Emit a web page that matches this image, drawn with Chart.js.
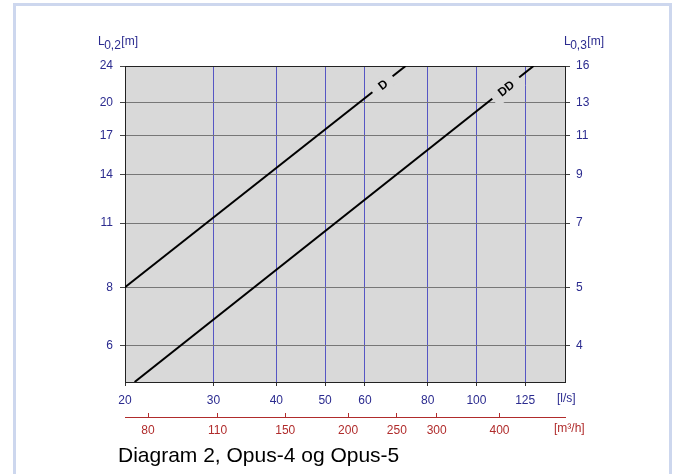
<!DOCTYPE html>
<html>
<head>
<meta charset="utf-8">
<script src="https://cdn.jsdelivr.net/npm/chart.js@4/dist/chart.umd.min.js"></script>
<style>
  html, body { margin: 0; padding: 0; background: #fff; }
  #wrap { position: relative; width: 677px; height: 474px; overflow: hidden; }
  #frame { position: absolute; left: 13px; top: 3px; width: 653px; height: 520px;
           border: 3px solid #cdd7ee; border-bottom: none; }
  #chart { position: absolute; left: 0; top: 0; }
</style>
</head>
<body>
<div id="wrap">
  <div id="frame"></div>
  <canvas id="chart" width="677" height="474"></canvas>
</div>
<script>
// Akser (log-log)
const flowLs   = [20, 30, 40, 50, 60, 80, 100, 125];      // [l/s]
const flowM3h  = [80, 110, 150, 200, 250, 300, 400];      // [m³/h]
const lenLeft  = [6, 8, 11, 14, 17, 20, 24];              // L0,2 [m]
const lenRight = ['4', '5', '7', '9', '11', '13', '16'];  // L0,3 [m]
const flowMin = 20, flowMax = 150;
const lenMin = 5, lenMax = 24;

// Kurver D og DD (endepunkter lest av diagrammet)
const dFlow  = [20, 72.3];
const dLen   = [8, 24];
const ddFlow = [20.9, 129.9];
const ddLen  = [5, 24];

// Kurvetekster (plassering på kurven)
const curveNames = ['D', 'DD'];
const labelFlow  = [65.1, 114.4];
const labelLen   = [21.9, 21.5];

const NAVY = '#2b2b8f';
const RED  = '#b02c2c';
const PLOT_BG = '#d9d9d9';
const FONT = 'Arial, "Liberation Sans", sans-serif';

Chart.defaults.font.family = FONT;
Chart.defaults.font.size = 12;

const toPoints = (xs, ys) => xs.map((x, i) => ({ x, y: ys[i] }));

const diagram = {
    id: 'diagram',
    beforeDraw(chart) {
        const { ctx, chartArea: a } = chart;
        ctx.save();
        ctx.fillStyle = PLOT_BG;
        ctx.fillRect(a.left, a.top, a.right - a.left, a.bottom - a.top);
        ctx.restore();
    },
    beforeDatasetsDraw(chart) {
        // øvre ramme
        const { ctx, chartArea: a } = chart;
        ctx.save();
        ctx.strokeStyle = '#222';
        ctx.lineWidth = 1;
        ctx.beginPath();
        ctx.moveTo(a.left, Math.round(a.top) + 0.5);
        ctx.lineTo(a.right, Math.round(a.top) + 0.5);
        ctx.stroke();
        ctx.restore();
    },
    afterDatasetsDraw(chart) {
        const { ctx } = chart;
        const xs = chart.scales.x, ys = chart.scales.y;
        curveNames.forEach((name, i) => {
            const pts = chart.getDatasetMeta(i).data;
            const p0 = pts[0], p1 = pts[pts.length - 1];
            const ang = Math.atan2(p1.y - p0.y, p1.x - p0.x);
            const px = xs.getPixelForValue(labelFlow[i]);
            const py = ys.getPixelForValue(labelLen[i]);
            ctx.save();
            ctx.translate(px, py);
            ctx.rotate(ang);
            ctx.font = 'bold 12px ' + FONT;
            const w = ctx.measureText(name).width + 17;
            const h = i === 0 ? 14 : 20;
            ctx.fillStyle = PLOT_BG;
            ctx.fillRect(-w / 2, -h / 2, w, h);
            ctx.fillStyle = '#000';
            ctx.textAlign = 'center';
            ctx.textBaseline = 'middle';
            ctx.fillText(name, 0, 1);
            ctx.restore();
        });
    },
    afterDraw(chart) {
        const { ctx } = chart;
        const f = s => s + 'px ' + FONT;
        const axisTitle = (x, sub) => {
            ctx.font = f(12);
            ctx.fillText('L', x, 45);
            x += ctx.measureText('L').width - 0.5;
            ctx.fillText(sub, x, 49);
            x += ctx.measureText(sub).width + 0.5;
            ctx.fillText('[m]', x, 45);
        };
        ctx.save();
        ctx.textBaseline = 'alphabetic';
        ctx.textAlign = 'left';
        ctx.fillStyle = NAVY;
        axisTitle(98, '0,2');
        axisTitle(564, '0,3');
        ctx.font = f(12);
        ctx.textBaseline = 'middle';
        ctx.fillText('[l/s]', 557, 399);
        ctx.fillStyle = RED;
        ctx.fillText('[m³/h]', 554, 429);
        ctx.fillStyle = '#000';
        ctx.textBaseline = 'alphabetic';
        ctx.font = f(21);
        ctx.fillText('Diagram 2, Opus-4 og Opus-5', 118, 462);
        ctx.restore();
    }
};

const lenTicks = s => { s.ticks = lenLeft.map(v => ({ value: v })); };

new Chart(document.getElementById('chart'), {
    type: 'line',
    data: {
        datasets: [
            { label: 'D',  data: toPoints(dFlow, dLen) },
            { label: 'DD', data: toPoints(ddFlow, ddLen) },
        ],
    },
    options: {
        responsive: false,
        animation: false,
        devicePixelRatio: 1,
        layout: { padding: { top: 66, left: 0, right: 0, bottom: 0 } },
        elements: {
            line: { borderColor: '#000', borderWidth: 2, tension: 0 },
            point: { radius: 0 },
        },
        plugins: { legend: { display: false }, tooltip: { enabled: false } },
        scales: {
            x: {
                type: 'logarithmic', position: 'bottom', min: flowMin, max: flowMax,
                afterBuildTicks: s => { s.ticks = flowLs.map(v => ({ value: v })); },
                afterFit: s => { s.height = 35; },
                ticks: { color: NAVY, padding: 7, autoSkip: false, maxRotation: 0,
                         callback: v => String(v) },
                grid: { color: '#5656c4', lineWidth: 1, tickLength: 4, tickColor: '#333' },
                border: { color: '#222' },
            },
            x2: {
                type: 'logarithmic', position: 'bottom',
                min: flowMin * 3.6, max: flowMax * 3.6,
                afterBuildTicks: s => { s.ticks = flowM3h.map(v => ({ value: v })); },
                afterFit: s => { s.height = 57; },
                ticks: { color: RED, padding: 10, autoSkip: false, maxRotation: 0,
                         callback: v => String(v) },
                grid: { drawOnChartArea: false, tickLength: -4, color: RED, tickColor: RED },
                border: { color: RED },
            },
            y: {
                type: 'logarithmic', position: 'left', min: lenMin, max: lenMax,
                afterBuildTicks: lenTicks,
                afterFit: s => { s.width = 125; },
                ticks: { color: NAVY, padding: 7, autoSkip: false, callback: v => String(v) },
                grid: { color: '#777', lineWidth: 1, tickLength: 5, tickColor: '#444' },
                border: { color: '#222' },
            },
            y2: {
                type: 'logarithmic', position: 'right', min: lenMin, max: lenMax,
                afterBuildTicks: lenTicks,
                afterFit: s => { s.width = 112; },
                ticks: { color: NAVY, padding: 6, autoSkip: false,
                         callback: (v, i) => lenRight[i] },
                grid: { drawOnChartArea: false, tickLength: 5, tickColor: '#444' },
                border: { color: '#222' },
            },
        },
    },
    plugins: [diagram],
});
</script>
</body>
</html>
